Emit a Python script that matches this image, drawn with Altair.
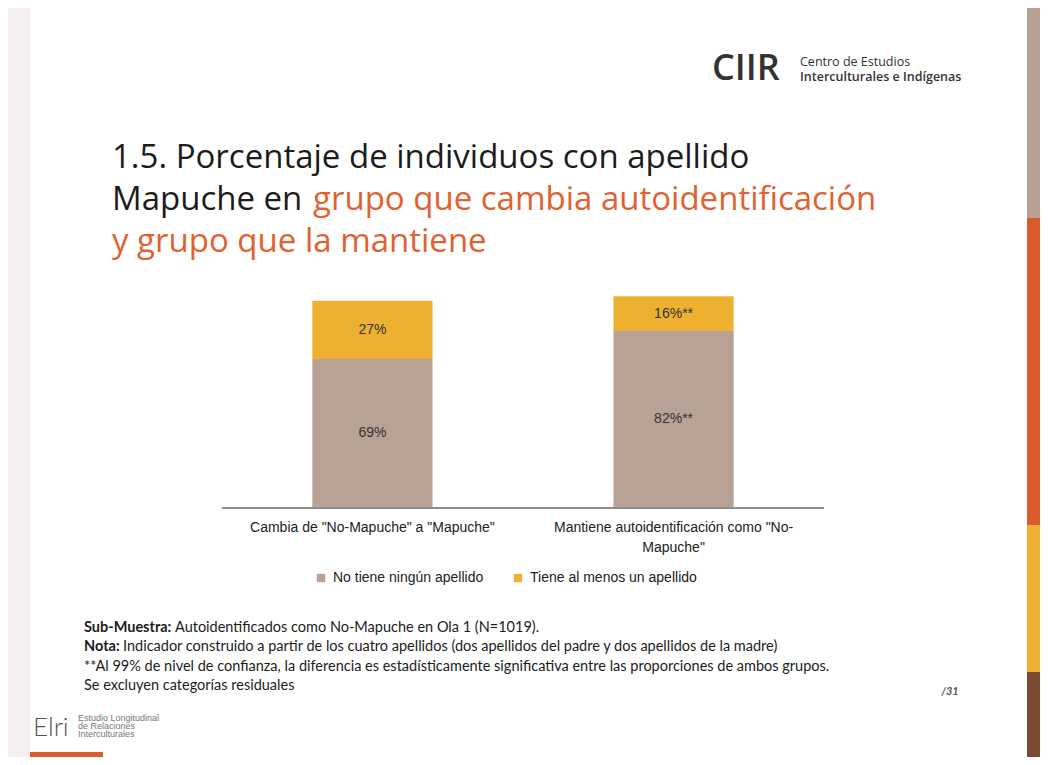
import altair as alt
import pandas as pd

# ---------------- data ----------------
grupos = ['Cambia de "No-Mapuche" a "Mapuche"',
          'Mantiene autoidentificación como "No-Mapuche"']
etiquetas_eje = ['Cambia de "No-Mapuche" a "Mapuche"',
                 'Mantiene autoidentificación  como "No-|Mapuche"']
categorias = ["No tiene ningún apellido", "Tiene al menos un apellido"]
sin_apellido = [69, 82]
con_apellido = [27, 16]
etiquetas_sin = ["69%", "82%**"]
etiquetas_con = ["27%", "16%**"]
colores = ["#b8a295", "#eeb030"]

titulo_l1 = "1.5. Porcentaje de individuos con apellido"
titulo_l2a = "Mapuche en"
titulo_l2b = "grupo que cambia autoidentificación"
titulo_l3 = "y grupo que la mantiene"

notas_bold = ["Sub-Muestra:", "Nota:", "", ""]
notas_txt = ["Autoidentificados como No-Mapuche en Ola 1 (N=1019).",
             "Indicador construido a partir de los cuatro apellidos (dos apellidos del padre y dos apellidos de la madre)",
             "**Al 99% de nivel de confianza, la diferencia es estadísticamente significativa entre las proporciones de ambos grupos.",
             "Se excluyen categorías residuales"]

rows = []
for i, g in enumerate(grupos):
    rows.append(dict(grupo=g, cat=categorias[0], orden=0, val=sin_apellido[i], txt=etiquetas_sin[i]))
    rows.append(dict(grupo=g, cat=categorias[1], orden=1, val=con_apellido[i], txt=etiquetas_con[i]))
df = pd.DataFrame(rows)
df_lab = pd.DataFrame({"grupo": grupos, "lab": etiquetas_eje})
one = pd.DataFrame({"a": [0]})

ORANGE = "#df6230"
DARK = "#1c1c1c"

# ---------------- helpers ----------------
def rect(x, x2, y, y2, color):
    return alt.Chart(one).mark_rect(color=color).encode(
        x=alt.value(x), x2=alt.value(x2), y=alt.value(y), y2=alt.value(y2))

def txt(s, x, y, size, color=DARK, font="Lato", weight="normal", align="left",
        baseline="alphabetic", style="normal"):
    return alt.Chart(one).mark_text(
        text=s, font=font, fontSize=size, color=color, fontWeight=weight,
        align=align, baseline=baseline, fontStyle=style
    ).encode(x=alt.value(x), y=alt.value(y))

# ---------------- chart ----------------
xs = alt.X("grupo:N", sort=grupos, axis=None,
           scale=alt.Scale(range=[214, 816], paddingInner=0.601, paddingOuter=0.3))
ys = alt.Scale(domain=[0, 100], range=[500, 284], nice=False)

bars = alt.Chart(df).mark_bar().encode(
    x=xs,
    y=alt.Y("val:Q", stack="zero", scale=ys, axis=None),
    color=alt.Color("cat:N", scale=alt.Scale(domain=categorias, range=colores),
                    legend=alt.Legend(orient="none", legendX=306, legendY=563,
                                      direction="horizontal", title=None,
                                      symbolType="square", symbolSize=70,
                                      symbolStrokeWidth=0,
                                      labelFont="Liberation Sans", labelFontSize=14,
                                      labelColor="#222", labelOffset=5,
                                      labelLimit=0, columnPadding=27)),
    order=alt.Order("orden:Q"),
)

seg_text = alt.Chart(df).transform_stack(
    stack="val", groupby=["grupo"], as_=["v0", "v1"],
    sort=[alt.SortField("orden", order="ascending")]
).transform_calculate(mid="(datum.v0 + datum.v1) / 2").mark_text(
    font="Liberation Sans", fontSize=14, color="#333"
).encode(
    x=alt.X("grupo:N", sort=grupos, axis=None),
    y=alt.Y("mid:Q", axis=None),
    text="txt:N",
)

baseline = alt.Chart(one).mark_rule(color="#8e8e8e", strokeWidth=2).encode(
    x=alt.value(214), x2=alt.value(816), y=alt.datum(0))

axis_labels = alt.Chart(df_lab).mark_text(
    font="Liberation Sans", fontSize=14, color="#222", baseline="top",
    lineBreak="|", lineHeight=20
).encode(x=alt.X("grupo:N", sort=grupos, axis=None), y=alt.value(513), text="lab:N")

FS = 14.5
layers = [
    rect(22, 1019, 0, 749, "white"),
    rect(1019, 1040, 0, 210, "#b9a093"),
    rect(1019, 1040, 210, 517, "#dc5b2d"),
    rect(1019, 1040, 517, 664, "#edb032"),
    rect(1019, 1040, 664, 757, "#7b4a33"),
    rect(22, 95, 744, 757, "#dc5b2d"),
    # CIIR logo
    txt("CIIR", 704, 72, 36, color="#333", font="Open Sans", weight=600),
    txt("Centro de Estudios", 792, 58, 12.5, color="#333", font="Open Sans"),
    txt("Interculturales e Indígenas", 792, 73, 12.5, color="#333", font="Open Sans", weight=600),
    # title
    txt(titulo_l1, 104, 160, 33, font="Open Sans"),
    txt(titulo_l2a, 104, 202, 33, font="Open Sans"),
    txt(titulo_l2b, 305, 202, 33, color=ORANGE, font="Open Sans"),
    txt(titulo_l3, 104, 244, 33, color=ORANGE, font="Open Sans"),
    # chart
    bars, seg_text, baseline, axis_labels,
    # footer
    txt(notas_bold[0], 76, 620, FS, weight="bold", baseline="middle"),
    txt(notas_txt[0], 167, 620, FS, baseline="middle"),
    txt(notas_bold[1], 76, 639, FS, weight="bold", baseline="middle"),
    txt(notas_txt[1], 115, 639, FS, baseline="middle"),
    txt(notas_txt[2], 76, 659, FS, baseline="middle"),
    txt(notas_txt[3], 76, 678, FS, baseline="middle"),
    txt("/31", 942, 684, 11, color="#555", weight="bold", style="italic", align="center", baseline="middle"),
    # Elri logo
    txt("Elri", 25, 728, 26, color="#555", font="Lato", weight=300),
    txt("Estudio Longitudinal", 70, 713, 9, color="#777", font="Liberation Sans"),
    txt("de Relaciones", 70, 721, 9, color="#777", font="Liberation Sans"),
    txt("Interculturales", 70, 729, 9, color="#777", font="Liberation Sans"),
]

chart = alt.layer(*layers).properties(
    width=1032, height=749,
    autosize=alt.AutoSizeParams(type="none"),
    padding=0,
    background="#f6eff1",
).configure_view(stroke=None)

chart.save("out.html", embed_options={"renderer": "svg", "actions": False})
